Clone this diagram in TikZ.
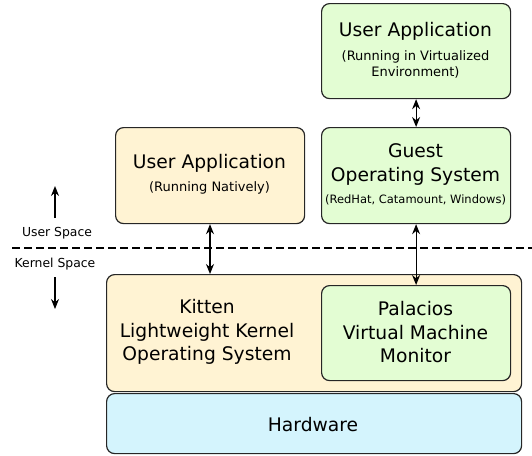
\documentclass[tikz,border=0pt]{standalone}
\usepackage{fontspec}
\setmainfont{DejaVu Sans}
\usetikzlibrary{arrows.meta}
\definecolor{natfill}{HTML}{FFF3D3}
\definecolor{virtfill}{HTML}{E3FDD3}
\definecolor{hwfill}{HTML}{D4F4FD}
\tikzset{
  boxshape/.style={draw=black!85, line width=1.2pt, rounded corners=8pt},
  big/.style={font=\fontsize{18.7}{23.5}\selectfont, align=center, inner sep=0pt},
  small/.style={font=\fontsize{13}{16}\selectfont, align=center, inner sep=0pt},
  tiny/.style={font=\fontsize{11.5}{14}\selectfont, align=center, inner sep=0pt},
  side/.style={font=\fontsize{12.4}{15}\selectfont, inner sep=0pt},
  tip/.style={Stealth[length=10pt,width=8pt]},
  link/.style={line width=1.2pt, {Stealth[length=10pt,width=8pt]}-{Stealth[length=10pt,width=8pt]}},
  onearrow/.style={line width=1.2pt, -{Stealth[length=10pt,width=8pt]}},
}
\begin{document}
\begin{tikzpicture}[x=1pt,y=-1pt]
\useasboundingbox (0,0) rectangle (532,455);
% boxes
\node[boxshape, fill=virtfill, minimum width=189pt, minimum height=95pt, anchor=north west] (vapp) at (321,3) {};
\node[boxshape, fill=virtfill, minimum width=189pt, minimum height=96pt, anchor=north west] (guest) at (321,127) {};
\node[boxshape, fill=natfill, minimum width=189pt, minimum height=96pt, anchor=north west] (napp) at (115,127) {};
\node[boxshape, fill=natfill, minimum width=415pt, minimum height=117pt, anchor=north west] (kitten) at (106,274) {};
\node[boxshape, fill=virtfill, minimum width=189pt, minimum height=95pt, anchor=north west] (palacios) at (321,285) {};
\node[boxshape, fill=hwfill, minimum width=415pt, minimum height=60pt, anchor=north west] (hw) at (106,393) {};
% texts
\node[big] (vappt) at (415.5,31) {User Application};
\node[small] (vapps) at (415.5,64.5) {(Running in Virtualized\\Environment)};
\node[big] (guestt) at (415.5,164.5) {Guest\\Operating System};
\node[tiny] (guests) at (415.5,200) {(RedHat, Catamount, Windows)};
\node[big] (nappt) at (209.5,163) {User Application};
\node[small] (napps) at (209.5,188) {(Running Natively)};
\node[big] (kittent) at (207,332) {Kitten\\Lightweight Kernel\\Operating System};
\node[big] (palt) at (415.5,332.5) {Palacios\\Virtual Machine\\Monitor};
\node[big] (hwt) at (313,425) {Hardware};
% dashed separator
\coordinate (dl) at (12,248);
\coordinate (dr) at (532,248);
\draw[line width=2pt, dash pattern=on 7.5pt off 4.5pt] (dl) -- (dr);
% side labels
\node[side] (us) at (57,233) {User Space};
\node[side] (ks) at (55,264) {Kernel Space};
\coordinate (upa) at (55,218);
\coordinate (upb) at (55,186);
\coordinate (dna) at (55,277);
\coordinate (dnb) at (55,309);
\draw[onearrow] (upa) -- (upb);
\draw[onearrow] (dna) -- (dnb);
% connectors
\draw[link] (napp.south -| 210,0) -- (kitten.north -| 210,0);
\draw[link] (vapp.south) -- (guest.north);
\draw[link] (guest.south) -- (palacios.north);
\end{tikzpicture}
\end{document}
